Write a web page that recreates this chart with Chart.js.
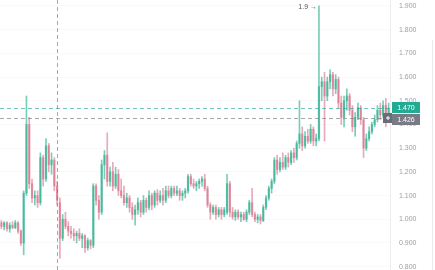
<!DOCTYPE html>
<html><head><meta charset="utf-8">
<script src="https://cdn.jsdelivr.net/npm/chart.js@4.4.0/dist/chart.umd.min.js"></script>
<style>html,body{margin:0;padding:0;background:#fff;overflow:hidden}</style>
</head><body>
<canvas id="c" width="435" height="270"></canvas>
<script>
const opens = [0.985,0.97,0.985,0.96,0.975,0.965,0.985,0.95,0.90,1.11,1.40,1.15,1.09,1.10,1.07,1.26,1.17,1.31,1.23,1.25,
1.14,1.07,0.92,1.00,0.97,0.95,0.94,0.93,0.94,0.92,0.93,0.88,0.91,0.89,1.14,1.08,1.03,1.23,1.27,1.16,
1.20,1.14,1.19,1.12,1.10,1.07,1.09,1.05,1.02,1.04,1.07,1.03,1.08,1.05,1.10,1.06,1.11,1.08,1.10,1.08,
1.12,1.10,1.13,1.11,1.12,1.10,1.11,1.12,1.18,1.15,1.14,1.15,1.16,1.17,1.13,1.06,1.03,1.05,1.02,1.04,
1.02,1.03,1.15,1.03,1.01,1.03,1.01,1.02,1.00,1.03,1.07,1.02,1.00,1.01,0.995,1.05,1.09,1.13,1.16,1.25,
1.21,1.24,1.22,1.26,1.24,1.28,1.26,1.32,1.36,1.31,1.35,1.33,1.38,1.33,1.34,1.56,1.58,1.52,1.58,1.61,
1.55,1.59,1.49,1.43,1.50,1.52,1.46,1.39,1.43,1.47,1.42,1.30,1.34,1.37,1.40,1.42,1.46,1.44,1.48,1.42];
const highs = [0.995,0.99,0.99,0.985,0.99,0.995,0.99,0.955,1.12,1.52,1.43,1.17,1.12,1.12,1.28,1.27,1.34,1.32,1.28,1.26,
1.16,1.09,1.02,1.03,0.99,0.97,0.96,0.95,0.96,0.94,0.935,0.92,0.915,1.15,1.15,1.10,1.25,1.29,1.365,1.22,
1.24,1.22,1.21,1.17,1.14,1.11,1.10,1.07,1.06,1.09,1.08,1.10,1.09,1.12,1.11,1.12,1.125,1.12,1.13,1.14,
1.14,1.14,1.14,1.14,1.13,1.12,1.13,1.19,1.19,1.17,1.16,1.17,1.18,1.19,1.14,1.07,1.06,1.06,1.05,1.05,
1.05,1.19,1.16,1.05,1.04,1.04,1.03,1.03,1.04,1.08,1.13,1.03,1.02,1.02,1.06,1.10,1.14,1.17,1.26,1.27,
1.26,1.28,1.27,1.28,1.29,1.30,1.33,1.50,1.39,1.37,1.38,1.40,1.39,1.36,1.90,1.60,1.62,1.60,1.63,1.62,
1.61,1.60,1.52,1.52,1.55,1.53,1.48,1.45,1.49,1.48,1.43,1.36,1.39,1.41,1.44,1.48,1.49,1.50,1.51,1.49];
const lows = [0.96,0.955,0.95,0.945,0.96,0.96,0.94,0.89,0.85,1.10,1.13,1.07,1.06,1.05,1.06,1.14,1.16,1.20,1.19,1.12,
1.06,0.835,0.91,0.96,0.93,0.92,0.91,0.90,0.91,0.88,0.86,0.87,0.875,0.88,1.06,1.00,1.02,1.17,1.14,1.14,
1.12,1.13,1.10,1.09,1.06,1.05,1.03,1.00,0.975,1.02,1.01,1.02,1.03,1.04,1.04,1.05,1.06,1.07,1.06,1.07,
1.09,1.09,1.10,1.10,1.08,1.08,1.09,1.11,1.14,1.13,1.12,1.13,1.14,1.12,1.05,1.00,1.02,1.00,1.01,1.00,
1.01,1.02,1.01,1.00,0.995,1.00,0.99,0.995,0.99,1.02,1.01,0.99,0.985,0.98,0.99,1.04,1.08,1.11,1.15,1.19,
1.20,1.21,1.21,1.22,1.23,1.24,1.25,1.30,1.29,1.30,1.32,1.32,1.31,1.31,1.33,1.50,1.33,1.50,1.55,1.52,
1.53,1.47,1.40,1.39,1.46,1.44,1.37,1.35,1.42,1.40,1.26,1.29,1.33,1.36,1.39,1.41,1.42,1.43,1.39,1.41];
const closes = [0.97,0.985,0.96,0.975,0.965,0.985,0.95,0.90,1.11,1.40,1.15,1.09,1.10,1.07,1.26,1.17,1.31,1.23,1.25,1.14,
1.08,0.92,1.00,0.97,0.95,0.94,0.93,0.94,0.92,0.93,0.88,0.91,0.89,1.14,1.08,1.03,1.23,1.27,1.16,1.20,
1.14,1.19,1.12,1.10,1.07,1.09,1.05,1.02,1.04,1.07,1.03,1.08,1.05,1.10,1.06,1.11,1.08,1.10,1.08,1.12,
1.10,1.13,1.11,1.12,1.10,1.11,1.12,1.18,1.15,1.14,1.15,1.16,1.17,1.13,1.06,1.03,1.05,1.02,1.04,1.02,
1.04,1.15,1.03,1.01,1.03,1.01,1.02,1.00,1.03,1.07,1.02,1.00,1.01,0.995,1.05,1.09,1.13,1.16,1.25,1.21,
1.24,1.22,1.26,1.24,1.28,1.26,1.32,1.36,1.31,1.35,1.33,1.38,1.33,1.34,1.56,1.58,1.52,1.58,1.61,1.55,
1.59,1.49,1.43,1.50,1.52,1.46,1.39,1.43,1.47,1.42,1.30,1.34,1.37,1.40,1.42,1.46,1.44,1.48,1.42,1.47];
const tickValues = [0.8,0.9,1.0,1.1,1.2,1.3,1.4,1.5,1.6,1.7,1.8,1.9];
const lastPrice = 1.470;
const crosshairPrice = 1.426;
const crosshairIndex = 20;
const highLabel = '1.9';
const categories = opens.map((_, i) => String(i + 1));

const UP = 'rgba(40,175,140,0.62)';
const DOWN = 'rgba(214,100,125,0.55)';
const colors = opens.map((o, i) => closes[i] >= o ? UP : DOWN);

const overlay = {
  id: 'overlay',
  afterDatasetsDraw(chart) {
    const {ctx, chartArea: a, scales: {x, y}} = chart;
    ctx.save();
    ctx.lineWidth = 1;
    ctx.setLineDash([4, 3]);
    const ly = Math.round(y.getPixelForValue(lastPrice)) + 0.5;
    ctx.strokeStyle = 'rgba(38,166,154,0.65)';
    ctx.beginPath(); ctx.moveTo(a.left, ly); ctx.lineTo(a.right, ly); ctx.stroke();
    ctx.strokeStyle = 'rgba(120,123,134,0.65)';
    const cy = Math.round(y.getPixelForValue(crosshairPrice)) + 0.5;
    ctx.beginPath(); ctx.moveTo(a.left, cy); ctx.lineTo(a.right, cy); ctx.stroke();
    const cx = Math.round(x.getPixelForValue(crosshairIndex)) + 0.5;
    ctx.beginPath(); ctx.moveTo(cx, a.top); ctx.lineTo(cx, a.bottom); ctx.stroke();
    ctx.setLineDash([]);
    let hi = 0;
    highs.forEach((h, i) => { if (h > highs[hi]) hi = i; });
    const hx = x.getPixelForValue(hi), hy = y.getPixelForValue(highs[hi]);
    ctx.font = '7px "Liberation Sans", Arial, sans-serif';
    ctx.fillStyle = '#555';
    ctx.textAlign = 'right'; ctx.textBaseline = 'middle';
    ctx.fillText(highLabel + ' \u2192', hx - 2, hy + 1);
    ctx.restore();
  },
  afterDraw(chart) {
    const {ctx, chartArea: a, scales: {y}} = chart;
    ctx.save();
    ctx.font = '7px "Liberation Sans", Arial, sans-serif';
    ctx.textBaseline = 'middle'; ctx.textAlign = 'center';
    const ly = y.getPixelForValue(lastPrice);
    const cy = y.getPixelForValue(crosshairPrice);
    const bx = a.right + 2, bw = 28, bh = 11;
    ctx.fillStyle = '#22ab94';
    ctx.fillRect(bx, Math.round(ly - bh / 2), bw, bh);
    ctx.fillStyle = '#fff';
    ctx.fillText(lastPrice.toFixed(3), bx + bw / 2, ly + 0.5);
    ctx.fillStyle = '#787b86';
    ctx.fillRect(bx, Math.round(cy - bh / 2) + 1, bw, bh);
    ctx.fillStyle = '#fff';
    ctx.fillText(crosshairPrice.toFixed(3), bx + bw / 2, cy + 1.5);
    ctx.fillStyle = '#6a6d78';
    ctx.fillRect(a.right - 7, Math.round(cy - 5), 9, 10);
    ctx.fillStyle = '#fff';
    ctx.fillRect(a.right - 4, Math.round(cy) - 0.5, 4, 1);
    ctx.fillRect(a.right - 2.5, Math.round(cy) - 2, 1, 4);
    ctx.strokeStyle = 'rgba(0,0,0,0.08)';
    ctx.beginPath(); ctx.moveTo(432.5, 40); ctx.lineTo(432.5, 270); ctx.stroke();
    ctx.restore();
  }
};

new Chart(document.getElementById('c'), {
  type: 'bar',
  data: {
    labels: categories,
    datasets: [
      {
        label: 'bodies',
        data: opens.map((o, i) => [o, closes[i]]),
        backgroundColor: colors,
        barThickness: 1.6,
        minBarLength: 1,
        grouped: false,
        order: 1
      },
      {
        label: 'wicks',
        data: lows.map((l, i) => [l, highs[i]]),
        backgroundColor: colors,
        barThickness: 1,
        grouped: false,
        order: 2
      }
    ]
  },
  options: {
    responsive: false,
    animation: false,
    devicePixelRatio: 1,
    layout: { padding: 0 },
    plugins: { legend: { display: false }, tooltip: { enabled: false } },
    scales: {
      x: { display: false, offset: true },
      y: {
        position: 'right',
        min: 0.786, max: 1.925,
        afterBuildTicks(s) { s.ticks = tickValues.map(v => ({ value: v })); },
        afterFit(s) { s.width = 45; s.paddingTop = 0; s.paddingBottom = 0; },
        ticks: {
          font: { size: 7, family: '"Liberation Sans", Arial, sans-serif' },
          color: '#a0a0a0',
          padding: 9,
          callback: v => Number(v).toFixed(3)
        },
        grid: { color: 'rgba(0,0,0,0.025)', drawTicks: false },
        border: { color: 'rgba(0,0,0,0.07)' }
      }
    }
  },
  plugins: [overlay]
});
</script>
</body></html>
